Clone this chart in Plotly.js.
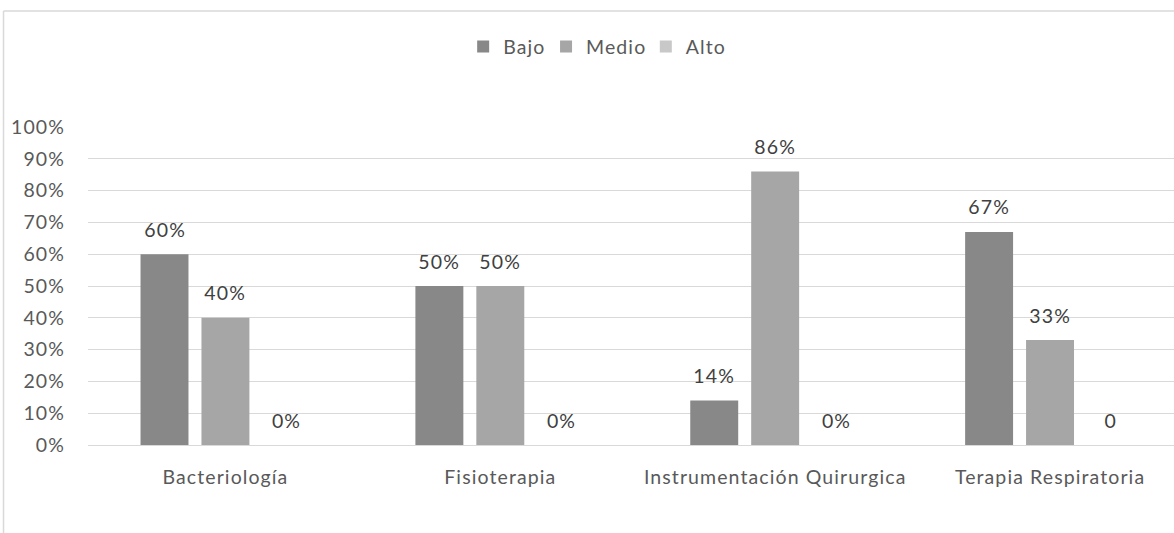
<!DOCTYPE html>
<html><head><meta charset="utf-8">
<script src="https://cdn.plot.ly/plotly-3.0.1.min.js"></script>
<style>html,body{margin:0;padding:0;background:#fff}#chart{width:1174px;height:533px}
#chart svg text{letter-spacing:1.1px}</style>
</head><body><div id="chart"></div>
<script>
const categories = ["Bacteriología", "Fisioterapia", "Instrumentación Quirurgica", "Terapia Respiratoria"];
const seriesNames = ["Bajo", "Medio", "Alto"];
const bajo = [0.60, 0.50, 0.14, 0.67];
const medio = [0.40, 0.50, 0.86, 0.33];
const alto = [0, 0, 0, 0];
const bajoLabels = ["60%", "50%", "14%", "67%"];
const medioLabels = ["40%", "50%", "86%", "33%"];
const altoLabels = ["0%", "0%", "0%", "0"];
const yTickVals = [0,0.1,0.2,0.3,0.4,0.5,0.6,0.7,0.8,0.9,1.0];
const yTickText = ["0%","10%","20%","30%","40%","50%","60%","70%","80%","90%","100%"];

const font = {family: "Lato, Open Sans, sans-serif", size: 19.5, color: "#595959"};
const colors = ["#888888", "#a6a6a6", "#c8c8c8"];
const values = [bajo, medio, alto];
const labels = [bajoLabels, medioLabels, altoLabels];

const data = values.map((v, i) => ({
  type: "bar", name: seriesNames[i], x: categories, y: v, hoverinfo: "skip",
  offsetgroup: String(i), marker: {color: colors[i]}
}));

const layout = {
  width: 1174, height: 533,
  margin: {l: 87.5, r: 0, t: 127, b: 88},
  paper_bgcolor: "#fff", plot_bgcolor: "#fff",
  font: font,
  barmode: "group", bargap: 0.335, bargroupgap: 0.213,
  xaxis: {range: [-0.5, 3.451], showgrid: false, zeroline: false, showline: false,
    ticks: "", ticklabelstandoff: 18, tickfont: font},
  yaxis: {range: [0, 1], tickvals: yTickVals, ticktext: yTickText, showgrid: true,
    gridcolor: "#d9d9d9", gridwidth: 1, zeroline: true, zerolinecolor: "#d9d9d9",
    showline: false, ticks: "", ticklabelstandoff: 22, tickfont: font},
  showlegend: true,
  legend: {orientation: "h", x: 0.467, xanchor: "center", y: 1.252, yanchor: "middle",
    font: font, traceorder: "normal", itemwidth: 30},
  annotations: [],
  shapes: [
    {type: "line", xref: "paper", yref: "paper", x0: -0.0778, x1: 1.01, y0: 1.365, y1: 1.365,
      line: {color: "#d9d9d9", width: 1.5}},
    {type: "line", xref: "paper", yref: "paper", x0: -0.0778, x1: -0.0778, y0: 1.365, y1: -0.3,
      line: {color: "#d9d9d9", width: 1.5}}
  ]
};

// data labels placed above each bar via the axes (slot offsets within group)
const slot = (1 - layout.bargap) / 3;
values.forEach((v, i) => {
  v.forEach((val, j) => {
    layout.annotations.push({
      xref: "x", yref: "y", x: j + (i - 1) * slot, y: val, text: labels[i][j],
      showarrow: false, yanchor: "middle", yshift: 25,
      font: {family: font.family, size: 19.5, color: "#404040"}
    });
  });
});

Plotly.newPlot("chart", data, layout, {displayModeBar: false, staticPlot: true});
</script></body></html>
